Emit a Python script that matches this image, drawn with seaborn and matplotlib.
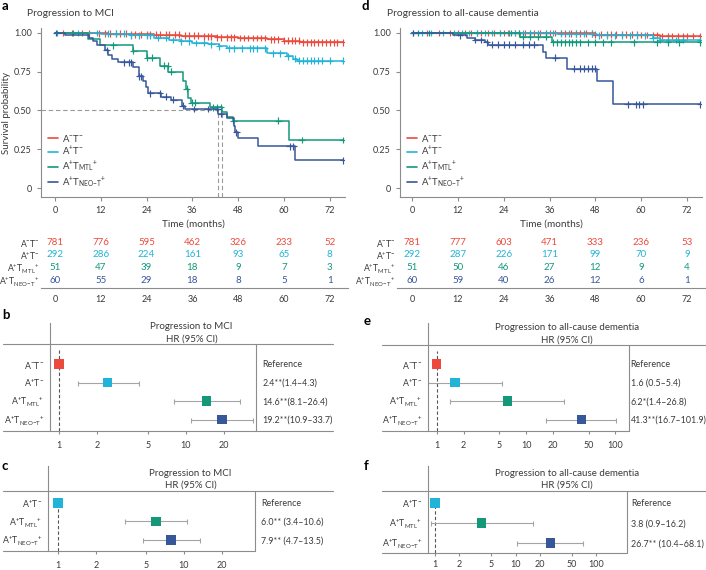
import matplotlib
matplotlib.use('Agg')
import matplotlib.pyplot as plt
from matplotlib.lines import Line2D
from matplotlib.ticker import NullLocator
import matplotlib.transforms as mtransforms
import numpy as np
import pandas as pd
import seaborn as sns

# ---------------- data ----------------
groups = ['A-T-', 'A+T-', 'A+TMTL+', 'A+TNEO-T+']
group_labels = [r'A$^{-}$T$^{-}$', r'A$^{+}$T$^{-}$',
                r'A$^{+}$T$_{\mathrm{MTL}}{}^{+}$',
                r'A$^{+}$T$_{\mathrm{NEO{-}T}}{}^{+}$']
colors = ['#EC4A3C', '#22B4D8', '#13987A', '#37579A']

# panel a: progression to MCI (Kaplan-Meier steps, months / survival)
mci_neg_t = [0, 8, 14, 20, 26, 33, 38, 42.4, 48, 55.5, 60, 64.2, 75.5]
mci_neg_s = [1.0, 0.998, 0.995, 0.992, 0.988, 0.983, 0.978, 0.972, 0.967, 0.958, 0.95, 0.94, 0.94]
mci_pos_t = [0, 12, 20, 26, 30, 33, 36, 40, 43, 45, 55.5, 60.8, 62.5, 63.5, 75.5]
mci_pos_s = [1.0, 0.995, 0.985, 0.97, 0.955, 0.945, 0.935, 0.928, 0.915, 0.9, 0.87, 0.85, 0.835, 0.82, 0.82]
mci_mtl_t = [0, 8.6, 11.8, 20.5, 24.0, 27.5, 29.7, 33.6, 34.2, 34.8, 35.6, 40.6, 43.7, 45.0, 46.7, 61.4, 75.5]
mci_mtl_s = [1.0, 0.96, 0.92, 0.885, 0.84, 0.79, 0.75, 0.69, 0.64, 0.58, 0.55, 0.52, 0.49, 0.46, 0.435, 0.31, 0.31]
mci_neo_t = [0, 2.6, 9.0, 10.0, 11.0, 13.0, 14.0, 15.0, 16.5, 20.5, 22.0, 23.0, 23.8, 24.5, 27.8,
             30.5, 33.3, 34.0, 42.8, 45.0, 46.8, 47.3, 48.0, 53.3, 63.0, 75.5]
mci_neo_s = [1.0, 0.985, 0.97, 0.95, 0.92, 0.89, 0.86, 0.83, 0.81, 0.78, 0.72, 0.69, 0.65, 0.61, 0.59,
             0.57, 0.53, 0.51, 0.48, 0.45, 0.40, 0.36, 0.32, 0.27, 0.18, 0.18]

mci_neg_cens = [2, 4.5, 7, 9, 11.5, 13, 14.5, 16, 17, 18.5, 20, 21, 22.5, 24, 25, 26.5, 27.5, 29, 30, 31.5,
                32.5, 34, 35, 36.5, 37.5, 39, 40, 41, 42.5, 43.5, 45, 46, 47, 48.5, 49.5, 50.5, 52, 53,
                54, 55, 56.5, 57.5, 58.5, 60, 61, 62, 63, 64, 65, 66, 67, 68, 69, 70, 71, 72, 73, 74, 75.5]
mci_pos_cens = [0.5, 6, 11, 14, 16, 18, 20, 22, 24, 25, 27, 29, 31, 33, 35, 37, 39, 41, 43, 45.5, 47, 49,
                51, 52, 53, 55, 57, 59, 61, 63, 64, 65, 66, 67, 68, 69, 70, 72, 75.5]
mci_mtl_cens = [4.7, 15.3, 20.5, 24.2, 25.5, 28.5, 29.5, 30.5, 34.5, 35.8, 36.8, 41.5, 42.5, 43.5, 46.7,
                58.5, 64.6, 75.5]
mci_neo_cens = [0.3, 13.5, 18, 19.5, 20, 22, 22.5, 25, 27.5, 29, 31, 33.5, 36.5, 40, 42.5, 43.5, 47.5,
                61.5, 62.5, 75.5]
mci_medians = [42.7, 43.7]

# panel d: progression to all-cause dementia
dem_neg_t = [0, 40, 48, 60, 65, 75.5]
dem_neg_s = [1.0, 0.997, 0.99, 0.987, 0.98, 0.98]
dem_pos_t = [0, 38, 48.4, 63, 65, 75.5]
dem_pos_s = [1.0, 0.995, 0.985, 0.97, 0.955, 0.955]
dem_mtl_t = [0, 28.3, 36.6, 75.5]
dem_mtl_s = [1.0, 0.977, 0.94, 0.94]
dem_neo_t = [0, 10.8, 14.3, 16.5, 19.1, 20.0, 34.4, 35.0, 40.5, 48.4, 52.7, 75.5]
dem_neo_s = [1.0, 0.985, 0.97, 0.955, 0.94, 0.925, 0.88, 0.84, 0.77, 0.69, 0.54, 0.54]

dem_neg_cens = [4, 7, 10, 12, 14, 15.5, 17, 18, 20, 21.5, 23, 24, 25.5, 27, 28, 29.5, 31, 32, 33.5, 35,
                36, 37.5, 39, 40, 41.5, 43, 44, 45.5, 47, 48, 49.5, 51, 52, 53.5, 55, 56, 57.5, 59, 60,
                61.5, 63, 64, 65.5, 67, 68, 69.5, 71, 72, 73.5, 75.5]
dem_pos_cens = [0.3, 2.5, 5, 8, 11, 13, 15, 17, 19, 21, 23, 25, 27, 29, 31, 33, 35, 37, 39, 41, 43, 45,
                47, 49, 51, 53, 55, 57, 59, 61, 63, 65, 67, 69, 71, 75.5]
dem_mtl_cens = [1.5, 4.5, 26, 28, 29, 31, 33, 35, 37, 38, 39, 40, 41, 42, 43, 44, 46, 48, 50, 52, 58, 64,
                67, 70, 75.5]
dem_neo_cens = [0.3, 12.5, 16.5, 18, 19.5, 21, 22.5, 24, 25.5, 27, 29, 30.5, 32, 37.5, 42.5, 44, 45, 46,
                47, 48, 56.5, 58.5, 59.5, 60.5, 75.5]

# numbers at risk
risk_times = [0, 12, 24, 36, 48, 60, 72]
mci_risk_neg = [781, 776, 595, 462, 326, 233, 52]
mci_risk_pos = [292, 286, 224, 161, 93, 65, 8]
mci_risk_mtl = [51, 47, 39, 18, 9, 7, 3]
mci_risk_neo = [60, 55, 29, 18, 8, 5, 1]
dem_risk_neg = [781, 777, 603, 471, 333, 236, 53]
dem_risk_pos = [292, 287, 226, 171, 99, 70, 9]
dem_risk_mtl = [51, 50, 46, 27, 12, 9, 4]
dem_risk_neo = [60, 59, 40, 26, 12, 6, 1]

# hazard ratios
b_hr = [1.0, 2.4, 14.6, 19.2]
b_lo = [1.0, 1.4, 8.1, 10.9]
b_hi = [1.0, 4.3, 26.4, 33.7]
b_txt = ['Reference', '2.4**(1.4–4.3)', '14.6**(8.1–26.4)', '19.2**(10.9–33.7)']
c_hr = [1.0, 6.0, 7.9]
c_lo = [1.0, 3.4, 4.7]
c_hi = [1.0, 10.6, 13.5]
c_txt = ['Reference', '6.0** (3.4–10.6)', '7.9** (4.7–13.5)']
e_hr = [1.0, 1.6, 6.2, 41.3]
e_lo = [1.0, 0.5, 1.4, 16.7]
e_hi = [1.0, 5.4, 26.8, 101.9]
e_txt = ['Reference', '1.6 (0.5–5.4)', '6.2*(1.4–26.8)', '41.3**(16.7–101.9)']
f_hr = [1.0, 3.8, 26.7]
f_lo = [0.95, 0.9, 10.4]
f_hi = [1.05, 16.2, 68.1]
f_txt = ['Reference', '3.8 (0.9–16.2)', '26.7** (10.4–68.1)']

# ---------------- style ----------------
sns.set_theme(style='ticks')
txt_col = '#3a3a3a'
rule_col = '#8c8c8c'
plt.rcParams['font.family'] = ['Lato', 'DejaVu Sans']
plt.rcParams.update({
    'mathtext.fontset': 'custom', 'mathtext.rm': 'Lato', 'mathtext.it': 'Lato:italic',
    'mathtext.bf': 'Lato:bold', 'mathtext.default': 'regular',
    'text.color': txt_col, 'axes.labelcolor': txt_col,
    'xtick.color': rule_col, 'ytick.color': rule_col,
    'xtick.labelcolor': txt_col, 'ytick.labelcolor': txt_col,
    'axes.edgecolor': rule_col, 'axes.linewidth': 0.8,
    'xtick.major.width': 0.8, 'ytick.major.width': 0.8,
    'xtick.major.size': 3, 'ytick.major.size': 3,
    'xtick.labelsize': 6.5, 'ytick.labelsize': 6.5,
})

W, H = 706, 570
fig = plt.figure(figsize=(W / 100, H / 100), dpi=100)


def add_ax(l, t, r, b):
    return fig.add_axes([l / W, 1 - b / H, (r - l) / W, (b - t) / H])


def rule(x0, x1, y0, y1):
    fig.add_artist(Line2D([x0 / W, x1 / W], [1 - y0 / H, 1 - y1 / H], transform=fig.transFigure,
                          color=rule_col, lw=0.8))


def draw_km(ax, times, survs, cens):
    frames = [pd.DataFrame({'time': t, 'surv': s, 'group': g}) for g, t, s in zip(groups, times, survs)]
    sns.lineplot(data=pd.concat(frames), x='time', y='surv', hue='group', hue_order=groups,
                 palette=colors, estimator=None, sort=False, drawstyle='steps-post',
                 linewidth=1.1, legend=False, ax=ax)
    cf = []
    for g, t, s, c in zip(groups, times, survs, cens):
        idx = np.searchsorted(t, c, side='right') - 1
        cf.append(pd.DataFrame({'time': c, 'surv': np.asarray(s)[idx], 'group': g}))
    sns.scatterplot(data=pd.concat(cf), x='time', y='surv', hue='group', hue_order=groups,
                    palette=colors, marker='+', s=24, linewidth=0.85, legend=False, ax=ax)
    ax.set_ylim(-0.058, 1.032)
    ax.set_xticks(risk_times)
    ax.set_yticks([0, 0.25, 0.5, 0.75, 1.0])
    ax.set_yticklabels(['0', '0.25', '0.50', '0.75', '1.00'])
    ax.set_xlabel('Time (months)', fontsize=7.2, labelpad=3)
    ax.set_ylabel('')
    sns.despine(ax=ax)


def draw_table(ax, counts):
    for i, (row, c) in enumerate(zip(counts, colors)):
        for t, n in zip(risk_times, row):
            ax.text(t, i, str(n), ha='center', va='center', color=c, fontsize=7)
    ax.set_ylim(3.6, -0.48)
    ax.set_yticks(range(len(groups)))
    ax.set_yticklabels(group_labels, fontsize=6.2)
    ax.tick_params(axis='y', length=0, pad=1)
    ax.set_xticks(risk_times)
    ax.tick_params(axis='x', length=0, pad=5)
    sns.despine(ax=ax, left=True)


def draw_forest(ax, labels, cols, hr, lo, hi, txt, ticks, xlim, ylim, header, hdr_y, hdr_x, txt_x,
                tick_pad=5):
    hr, lo, hi = np.array(hr), np.array(lo), np.array(hi)
    y = np.arange(len(hr))
    ax.set_xscale('log')
    ax.errorbar(hr, y, xerr=[hr - lo, hi - hr], fmt='none', ecolor='#a4a4a4',
                elinewidth=0.8, capsize=1.8, capthick=0.8, zorder=2)
    df = pd.DataFrame({'hr': hr, 'row': y, 'group': labels})
    sns.scatterplot(data=df, x='hr', y='row', hue='group', palette=cols, marker='s', s=44,
                    linewidth=0, legend=False, ax=ax, zorder=3)
    ax.axvline(1, ymin=0, ymax=(ylim[0] - hdr_y[2] - 0.35) / (ylim[0] - ylim[1]), color='#555555',
               lw=0.8, ls=(0, (3, 2)), zorder=1)
    ax.set_xlim(*xlim)
    ax.set_ylim(*ylim)
    ax.set_xticks(ticks)
    ax.set_xticklabels([str(t) for t in ticks])
    ax.xaxis.set_minor_locator(NullLocator())
    ax.set_yticks(y)
    ax.set_yticklabels(labels, fontsize=6.3)
    ax.tick_params(axis='y', length=0, pad=4)
    ax.tick_params(axis='x', length=2.5, pad=tick_pad)
    ax.set_xlabel('')
    ax.set_ylabel('')
    for s in ['top', 'right', 'bottom']:
        ax.spines[s].set_visible(False)
    tr = mtransforms.blended_transform_factory(ax.transAxes, ax.transData)
    ax.text(hdr_x, hdr_y[0], header, transform=tr, ha='center', va='center', fontsize=7)
    ax.text(hdr_x, hdr_y[1], 'HR (95% CI)', transform=tr, ha='center', va='center', fontsize=7)
    for i, t in enumerate(txt):
        ax.text(txt_x, i + 0.05, t, transform=tr, ha='left', va='center', fontsize=6.4)


legend_kw = dict(loc='lower left', bbox_to_anchor=(0.0, 0.0), frameon=False, fontsize=6.8,
                 handlelength=1.0, handletextpad=0.5, labelspacing=0.14, borderaxespad=0.35)

# ---------------- panel a ----------------
ax_a = add_ax(41, 28, 345, 197)
draw_km(ax_a, [mci_neg_t, mci_pos_t, mci_mtl_t, mci_neo_t],
        [mci_neg_s, mci_pos_s, mci_mtl_s, mci_neo_s],
        [mci_neg_cens, mci_pos_cens, mci_mtl_cens, mci_neo_cens])
ax_a.set_xlim(-3.67, 76.0)
ax_a.plot([-3.67, max(mci_medians)], [0.5, 0.5], color='#9a9a9a', lw=0.8, ls=(0, (4, 2.5)), zorder=0)
for m in mci_medians:
    ax_a.plot([m, m], [-0.058, 0.5], color='#9a9a9a', lw=0.8, ls=(0, (4, 2.5)), zorder=0)
ax_a.set_ylabel('Survival probability', fontsize=7.0, labelpad=2)
handles = [Line2D([], [], color=c, lw=1.2) for c in colors]
ax_a.legend(handles, group_labels, **legend_kw)

# ---------------- panel d ----------------
ax_d = add_ax(400, 28, 702, 197)
draw_km(ax_d, [dem_neg_t, dem_pos_t, dem_mtl_t, dem_neo_t],
        [dem_neg_s, dem_pos_s, dem_mtl_s, dem_neo_s],
        [dem_neg_cens, dem_pos_cens, dem_mtl_cens, dem_neo_cens])
ax_d.set_xlim(-3.14, 75.9)
ax_d.legend(handles, group_labels, **legend_kw)

# ---------------- risk tables ----------------
ax_ta = add_ax(41, 236, 348, 288)
draw_table(ax_ta, [mci_risk_neg, mci_risk_pos, mci_risk_mtl, mci_risk_neo])
ax_ta.set_xlim(-3.67, 76.76)
ax_td = add_ax(397, 236, 705, 288)
draw_table(ax_td, [dem_risk_neg, dem_risk_pos, dem_risk_mtl, dem_risk_neo])
ax_td.set_xlim(-3.93, 76.7)

# ---------------- forest plots ----------------
ax_b = add_ax(50, 323, 256, 431)
draw_forest(ax_b, group_labels, colors, b_hr, b_lo, b_hi, b_txt, [1, 2, 5, 10, 20],
            (0.849, 35.6), (3.62, -2.216), 'Progression to MCI', (-2.0, -1.35, -1.08), 0.687, 1.03)
rule(3, 333, 344, 344)
rule(3, 333, 431, 431)
rule(256, 256, 344, 431)

ax_c = add_ax(48, 466, 255, 551)
draw_forest(ax_c, group_labels[1:], colors[1:], c_hr, c_lo, c_hi, c_txt, [1, 2, 5, 10, 20],
            (0.833, 36.6), (2.595, -2.0), 'Progression to MCI', (-1.62, -0.97, -0.65), 0.688, 1.03)
rule(3, 333, 491, 491)
rule(3, 255, 551, 551)
rule(255, 255, 491, 551)

ax_e = add_ax(428, 323, 629, 431)
draw_forest(ax_e, group_labels, colors, e_hr, e_lo, e_hi, e_txt, [1, 2, 5, 10, 20, 50, 100],
            (0.80, 141.6), (3.62, -2.216), 'Progression to all-cause dementia', (-1.95, -1.3, -1.03),
            0.692, 1.008)
rule(382, 706, 345, 345)
rule(382, 629, 431, 431)
rule(629, 629, 345, 431)

ax_f = add_ax(428, 466, 627, 553)
draw_forest(ax_f, group_labels[1:], colors[1:], f_hr, f_lo, f_hi, f_txt, [1, 2, 5, 10, 20, 50, 100],
            (0.82, 239), (2.5, -1.85), 'Progression to all-cause dementia', (-1.5, -0.9, -0.6),
            0.698, 1.022, tick_pad=2.5)
rule(382, 706, 491, 491)
rule(382, 627, 553, 553)
rule(627, 627, 491, 553)

# ---------------- titles and panel letters ----------------
fig.text(27 / W, 1 - 14 / H, 'Progression to MCI', fontsize=7.4, va='center')
fig.text(387 / W, 1 - 14 / H, 'Progression to all-cause dementia', fontsize=7.4, va='center')
for letter, (x, y) in zip('abcdef', [(2, 6), (2, 315), (2, 466), (362, 6), (364, 321), (364, 466)]):
    fig.text(x / W, 1 - y / H, letter, fontsize=9.5, fontweight='bold', va='center', color='black')

fig.savefig('out.png', dpi=100)
